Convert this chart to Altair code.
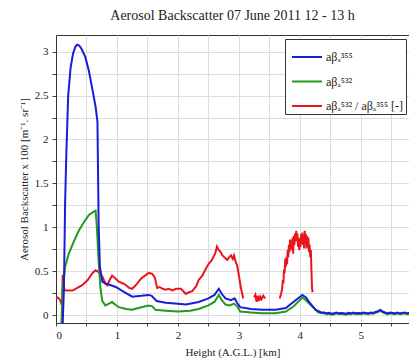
import altair as alt
import pandas as pd

# ---- data ----
blue_x = [0.11, 0.13, 0.15, 0.17, 0.20, 0.24, 0.28, 0.32, 0.35, 0.38, 0.42, 0.48, 0.54, 0.60, 0.65,
          0.68, 0.70, 0.72, 0.76, 0.81, 0.90, 0.98, 1.10, 1.25, 1.40, 1.52, 1.57, 1.65, 1.80, 2.00,
          2.13, 2.34, 2.50, 2.60, 2.67, 2.72, 2.78, 2.87, 2.93, 2.97, 3.02, 3.20, 3.38, 3.60, 3.77,
          3.93, 4.04, 4.10, 4.15, 4.26, 4.35]
blue_y = [-0.30, 0.30, 1.30, 1.85, 2.50, 2.82, 2.98, 3.06, 3.08, 3.07, 3.03, 2.94, 2.78, 2.56, 2.37,
          2.20, 1.00, 0.55, 0.38, 0.36, 0.34, 0.32, 0.27, 0.21, 0.22, 0.23, 0.22, 0.16, 0.14, 0.13,
          0.12, 0.15, 0.19, 0.23, 0.30, 0.24, 0.19, 0.17, 0.19, 0.14, 0.09, 0.07, 0.06, 0.06, 0.08,
          0.17, 0.23, 0.20, 0.15, 0.06, 0.03]

green_x = [0.09, 0.11, 0.15, 0.21, 0.30, 0.38, 0.46, 0.54, 0.60, 0.65, 0.67, 0.70, 0.73, 0.76, 0.81,
           0.87, 0.92, 0.97, 1.03, 1.15, 1.25, 1.40, 1.52, 1.58, 1.63, 1.80, 2.00, 2.20, 2.34, 2.50,
           2.60, 2.67, 2.72, 2.78, 2.85, 2.92, 2.97, 3.02, 3.20, 3.38, 3.60, 3.77, 3.90, 4.04, 4.10,
           4.20, 4.30, 4.36]
green_y = [-0.30, 0.30, 0.55, 0.70, 0.85, 0.97, 1.06, 1.14, 1.17, 1.19, 1.00, 0.60, 0.30, 0.16, 0.11,
           0.13, 0.15, 0.12, 0.09, 0.07, 0.06, 0.09, 0.11, 0.10, 0.06, 0.05, 0.04, 0.05, 0.07, 0.11,
           0.15, 0.23, 0.17, 0.12, 0.11, 0.13, 0.10, 0.04, 0.03, 0.02, 0.02, 0.04, 0.10, 0.20, 0.17,
           0.10, 0.03, 0.02]

tail_x = [4.40, 4.44, 4.48, 4.52, 4.56, 4.60, 4.64, 4.68, 4.72, 4.76, 4.80, 4.84, 4.88, 4.92, 4.96,
          5.00, 5.04, 5.08, 5.12, 5.16, 5.20, 5.24, 5.28, 5.32, 5.36, 5.40, 5.44, 5.48, 5.52, 5.56,
          5.60, 5.64, 5.68, 5.72, 5.76, 5.80, 5.84, 5.88, 5.92]
blue_tail = [0.03, 0.02, 0.025, 0.015, 0.02, 0.03, 0.02, 0.025, 0.02, 0.015,
             0.025, 0.02, 0.03, 0.02, 0.025, 0.02, 0.03, 0.025, 0.02, 0.03,
             0.025, 0.035, 0.045, 0.06, 0.04, 0.03, 0.02, 0.03, 0.025, 0.02,
             0.03, 0.02, 0.025, 0.03, 0.02, 0.025, 0.02, 0.03, 0.02]
green_tail = [0.02, 0.01, 0.015, 0.005, 0.01, 0.02, 0.01, 0.015, 0.01, 0.005,
              0.015, 0.01, 0.02, 0.01, 0.015, 0.01, 0.02, 0.015, 0.01, 0.02,
              0.015, 0.025, 0.035, 0.05, 0.03, 0.02, 0.01, 0.02, 0.015, 0.01,
              0.02, 0.01, 0.015, 0.02, 0.01, 0.015, 0.01, 0.02, 0.01]

red1_x = [0.00, 0.03, 0.06, 0.08, 0.09, 0.10, 0.11, 0.12, 0.14, 0.16, 0.20, 0.27, 0.35, 0.43, 0.52,
          0.60, 0.65, 0.70, 0.76, 0.81, 0.84, 0.88, 0.92, 0.97, 1.03, 1.10, 1.15, 1.20, 1.25, 1.32,
          1.40, 1.46, 1.52, 1.58, 1.62, 1.66, 1.70, 1.75, 1.80, 1.85, 1.91, 1.97, 2.05, 2.13, 2.18,
          2.23, 2.30, 2.34, 2.40, 2.45, 2.51, 2.55, 2.58, 2.61, 2.64, 2.67, 2.70, 2.73, 2.76, 2.79,
          2.81, 2.84, 2.87, 2.90, 2.92, 2.95, 2.97, 3.00, 3.03, 3.07]
red1_y = [0.19, 0.20, 0.18, 0.15, 0.12, 0.16, 0.46, 0.34, 0.29, 0.28, 0.28, 0.28, 0.31, 0.34, 0.40,
          0.48, 0.51, 0.49, 0.44, 0.36, 0.34, 0.40, 0.45, 0.42, 0.38, 0.36, 0.34, 0.31, 0.30, 0.35,
          0.42, 0.45, 0.48, 0.47, 0.43, 0.31, 0.32, 0.30, 0.29, 0.30, 0.28, 0.30, 0.30, 0.24, 0.26,
          0.27, 0.33, 0.40, 0.45, 0.52, 0.59, 0.62, 0.66, 0.70, 0.78, 0.74, 0.72, 0.68, 0.66, 0.64,
          0.63, 0.66, 0.68, 0.64, 0.68, 0.60, 0.57, 0.45, 0.32, 0.19]
red2_x = [3.25, 3.27, 3.29, 3.31, 3.33, 3.35, 3.37, 3.40, 3.43]
red2_y = [0.20, 0.23, 0.15, 0.22, 0.16, 0.21, 0.18, 0.22, 0.19]
red3_x = [3.67, 3.69, 3.71, 3.72, 3.73, 3.74, 3.75, 3.76, 3.77, 3.78, 3.79, 3.80, 3.81, 3.82, 3.83,
          3.84, 3.85, 3.86, 3.87, 3.88, 3.89, 3.90, 3.91, 3.92, 3.93, 3.94, 3.95, 3.96, 3.97, 3.98,
          3.99, 4.00, 4.01, 4.02, 4.03, 4.04, 4.05, 4.06, 4.07, 4.08, 4.09, 4.10, 4.11, 4.12, 4.13,
          4.14, 4.15, 4.16, 4.17, 4.18, 4.19, 4.20, 4.21]
red3_y = [0.19, 0.24, 0.30, 0.40, 0.36, 0.52, 0.48, 0.64, 0.55, 0.66, 0.58, 0.74, 0.66, 0.80, 0.72,
          0.86, 0.76, 0.85, 0.74, 0.88, 0.70, 0.90, 0.80, 0.93, 0.84, 0.96, 0.86, 0.93, 0.78, 0.88,
          0.74, 0.86, 0.78, 0.92, 0.82, 0.94, 0.80, 0.90, 0.76, 0.96, 0.84, 0.92, 0.76, 0.90, 0.78,
          0.88, 0.72, 0.80, 0.66, 0.74, 0.50, 0.30, 0.26]

L_B = "aβₐ³⁵⁵"
L_G = "aβₐ⁵³²"
L_R = "aβₐ⁵³² / aβₐ³⁵⁵ [-]"
series_names = [L_B, L_G, L_R]
series_colors = ["#1c1cd8", "#1f9a1f", "#e8161c"]

x_ticks = [0, 0.5, 1, 1.5, 2, 2.5, 3, 3.5, 4, 4.5, 5, 5.5]
y_ticks = [0, 0.25, 0.5, 0.75, 1, 1.25, 1.5, 1.75, 2, 2.25, 2.5, 2.75, 3]

# ---- build table ----
rows = []
def add(xs, ys, name, seg):
    for a, b in zip(xs, ys):
        rows.append({"h": a, "v": b, "series": name, "seg": seg})

add(red1_x, red1_y, L_R, "r1")
add(red2_x, red2_y, L_R, "r2")
add(red3_x, red3_y, L_R, "r3")
add(green_x + tail_x, green_y + green_tail, L_G, "g")
add(blue_x + tail_x, blue_y + blue_tail, L_B, "b")
df = pd.DataFrame(rows)

FONT = "Liberation Serif"

base = alt.Chart(df).mark_line(strokeWidth=2, clip=True).encode(
    x=alt.X("h:Q",
            scale=alt.Scale(domain=[0, 5.79], nice=False, zero=False),
            axis=alt.Axis(values=x_ticks, format="~g",
                          labelExpr="datum.value % 1 == 0 ? datum.label : ''",
                          title="Height (A.G.L.) [km]", titlePadding=6,
                          labelPadding=3, tickSize=3)),
    y=alt.Y("v:Q",
            scale=alt.Scale(domain=[-0.09, 3.19], nice=False, zero=False, clamp=True),
            axis=alt.Axis(values=y_ticks, format="~g",
                          labelExpr="datum.value % 0.5 == 0 ? datum.label : ''",
                          title="Aerosol Backscatter x 100 [m⁻¹. sr⁻¹]",
                          titlePadding=5, labelPadding=4)),
    color=alt.Color("series:N",
                    scale=alt.Scale(domain=series_names, range=series_colors),
                    legend=alt.Legend(orient="none", legendX=229, legendY=4, title=None,
                                      symbolType="stroke", symbolSize=900,
                                      symbolStrokeWidth=2, symbolOffset=4,
                                      labelFont=FONT, labelFontSize=12, labelColor="#222",
                                      fillColor="white", strokeColor="#333",
                                      padding=2, rowPadding=2.5, labelOffset=3)),
    detail="seg:N",
)

layers = [base.transform_filter(alt.datum.series == s) for s in [L_R, L_G, L_B]]

chart = alt.layer(*layers).properties(
    width=353, height=288,
    background="white",
    title=alt.TitleParams("Aerosol Backscatter 07 June 2011 12 - 13 h",
                          font=FONT, fontSize=14, fontWeight="normal", color="#222",
                          anchor="middle", baseline="bottom", offset=10, dy=12,
                          frame="group"),
    autosize=alt.AutoSizeParams(type="none"),
    padding={"left": 48, "top": 27, "right": 0, "bottom": 44},
).configure_view(stroke="#333", strokeWidth=1).configure_axis(
    labelFont=FONT, labelFontSize=11, labelColor="#222",
    titleFont=FONT, titleFontSize=11, titleFontWeight="normal", titleColor="#222",
    gridColor="#dcdcdc", gridWidth=1, tickColor="#444", tickSize=4,
    domainColor="#333",
)

chart.save("out.html", embed_options={"renderer": "svg", "actions": False})
